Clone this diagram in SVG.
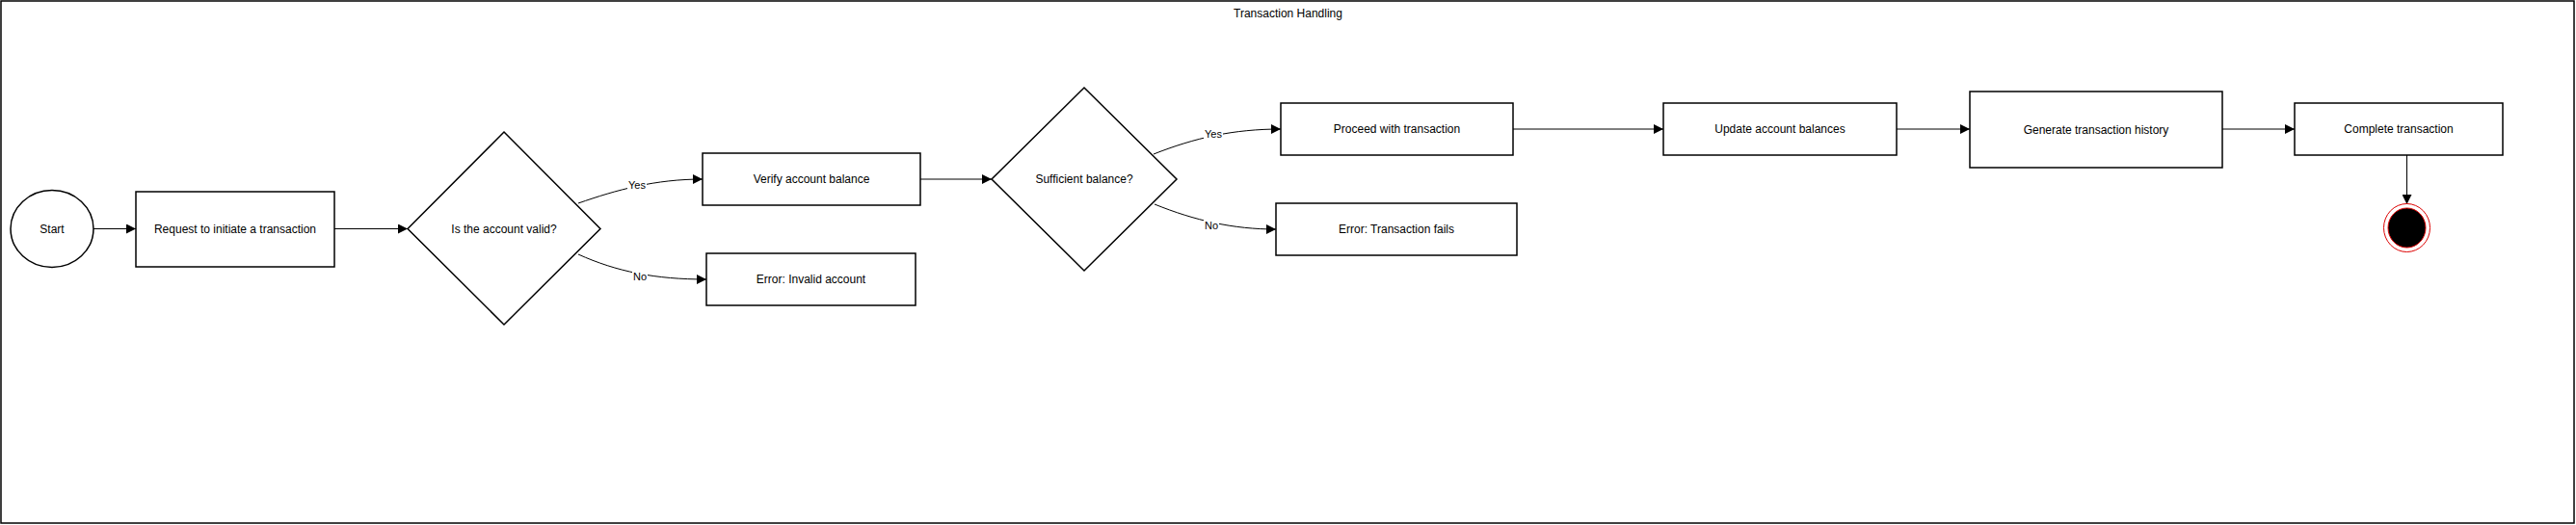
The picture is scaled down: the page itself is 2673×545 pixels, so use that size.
<svg xmlns="http://www.w3.org/2000/svg" width="2673" height="545" viewBox="0 0 2673 545">
<style>
.node{fill:#fff;stroke:#000;stroke-width:1.5}
.t{font-family:"Liberation Sans",Arial,sans-serif;font-size:12px;fill:#000;text-anchor:middle;dominant-baseline:central}
.lbl{font-family:"Liberation Sans",Arial,sans-serif;font-size:11px;fill:#000;text-anchor:middle;dominant-baseline:central}
.lblbg{fill:#fff}
.e{fill:none;stroke:#000;stroke-width:1;marker-end:url(#arr)}
</style>
<defs>
<marker id="arr" viewBox="0 0 10 10" refX="10" refY="5" markerWidth="10" markerHeight="10" markerUnits="userSpaceOnUse" orient="auto">
<path d="M0,0 L10,5 L0,10 z" fill="#000"/>
</marker>
</defs>
<rect x="1" y="1" width="2670" height="542" fill="#fff" stroke="#000" stroke-width="1.5"/>
<text class="t" x="1336.5" y="14">Transaction Handling</text>

<g id="connectors">
<path class="e" d="M97,237.5 L141,237.5"/>
<path class="e" d="M347,237.5 L423,237.5"/>
<path class="e" d="M600,211 C640,197 680,186 729,186"/>
<path class="e" d="M600,264 C640,282 680,290 733,290"/>
<path class="e" d="M955,186 L1029,186"/>
<path class="e" d="M1197,160 C1240,143 1280,134 1329,134"/>
<path class="e" d="M1198,212 C1240,229 1280,238 1324,238"/>
<path class="e" d="M1570,134 L1726,134"/>
<path class="e" d="M1968,134 L2044,134"/>
<path class="e" d="M2306,134 L2381,134"/>
<path class="e" d="M2497.5,161 L2497.5,212"/>
<rect class="lblbg" x="651" y="185" width="20" height="14"/>
<text class="lbl" x="661" y="192">Yes</text>
<rect class="lblbg" x="656" y="280" width="16" height="14"/>
<text class="lbl" x="664" y="287">No</text>
<rect class="lblbg" x="1249" y="132" width="20" height="14"/>
<text class="lbl" x="1259" y="139">Yes</text>
<rect class="lblbg" x="1249" y="227" width="16" height="14"/>
<text class="lbl" x="1257" y="234">No</text>
</g>

<g id="start">
<ellipse class="node" cx="54" cy="237.5" rx="43" ry="40"/>
<text class="t" x="54" y="237.5">Start</text>
</g>
<g id="request">
<rect class="node" x="141" y="199" width="206" height="78"/>
<text class="t" x="244" y="238">Request to initiate a transaction</text>
</g>
<g id="valid">
<path class="node" d="M523,137 L623,237.5 L523,337 L423,237.5 Z"/>
<text class="t" x="523" y="237.5">Is the account valid?</text>
</g>
<g id="verify">
<rect class="node" x="729" y="159" width="226" height="54"/>
<text class="t" x="842" y="186">Verify account balance</text>
</g>
<g id="invalid">
<rect class="node" x="733" y="263" width="217" height="54"/>
<text class="t" x="841.5" y="290">Error: Invalid account</text>
</g>
<g id="sufficient">
<path class="node" d="M1125,91 L1221,186 L1125,281 L1029,186 Z"/>
<text class="t" x="1125" y="186">Sufficient balance?</text>
</g>
<g id="proceed">
<rect class="node" x="1329" y="107" width="241" height="54"/>
<text class="t" x="1449.5" y="134">Proceed with transaction</text>
</g>
<g id="fails">
<rect class="node" x="1324" y="211" width="250" height="54"/>
<text class="t" x="1449" y="238">Error: Transaction fails</text>
</g>
<g id="update">
<rect class="node" x="1726" y="107" width="242" height="54"/>
<text class="t" x="1847" y="134">Update account balances</text>
</g>
<g id="history">
<rect class="node" x="2044" y="95" width="262" height="79"/>
<text class="t" x="2175" y="134.5">Generate transaction history</text>
</g>
<g id="complete">
<rect class="node" x="2381" y="107" width="216" height="54"/>
<text class="t" x="2489" y="134">Complete transaction</text>
</g>
<g id="end">
<ellipse cx="2497.5" cy="236.5" rx="24" ry="25" fill="#fff" stroke="#d00" stroke-width="1"/>
<ellipse cx="2497.5" cy="236.5" rx="19.5" ry="20.5" fill="#000" stroke="#d00" stroke-width="1"/>
</g>
</svg>
